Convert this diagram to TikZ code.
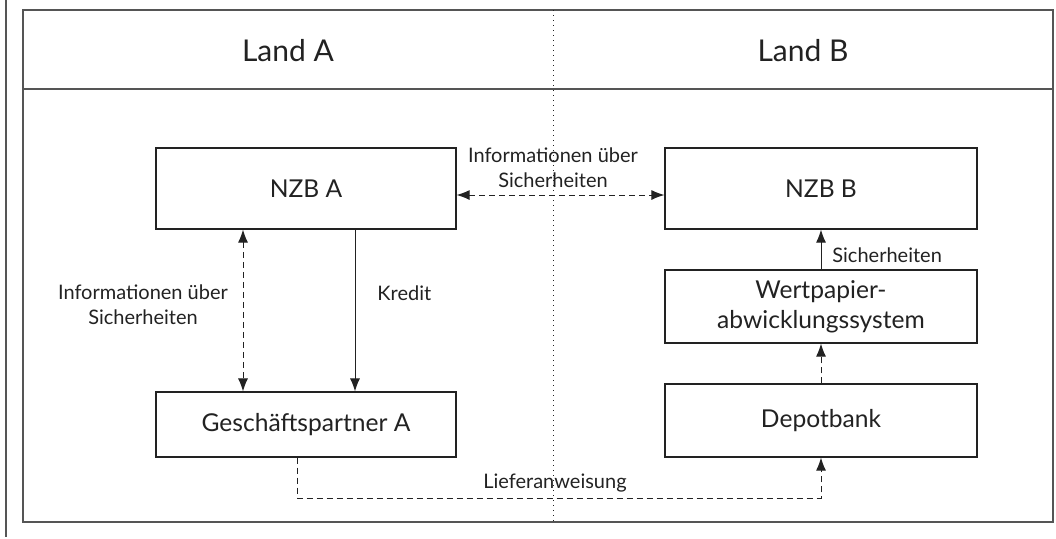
\documentclass[tikz,border=0pt]{standalone}
\usepackage{fontspec}
\setmainfont{Lato}
\usetikzlibrary{arrows.meta,positioning}

\definecolor{inkgray}{HTML}{222222}
\definecolor{framegray}{HTML}{555555}

\tikzstyle{bankbox} = [draw=inkgray, fill=white, line width=0.6pt,
    rectangle, inner sep=0pt, text=inkgray, align=center,
    font=\fontsize{12.3}{15}\selectfont]
\tikzstyle{landtitle} = [text=inkgray, font=\fontsize{15}{18}\selectfont]
\tikzstyle{smalllabel} = [text=inkgray, align=center, inner sep=0pt,
    font=\fontsize{10}{12.5}\selectfont]
\tikzstyle{solidarrow} = [draw=inkgray, line width=0.5pt,
    -{Latex[length=6.5pt,width=5pt]}]
\tikzstyle{dasharrow} = [solidarrow, dash pattern=on 3pt off 2pt]

\begin{document}
\begin{tikzpicture}[x=0.5pt, y=-0.5pt]
\useasboundingbox (0,0) rectangle (1056,538);

% frame and the two countries
\draw[framegray, line width=0.6pt] (6,0) -- (6,537);
\draw[framegray, line width=0.8pt] (23,10) rectangle (1053,522);
\draw[framegray, line width=0.8pt] (23,89) -- (1053,89);
\draw[inkgray, line width=0.5pt, dotted] (553,10) -- (553,522);
\node[landtitle] (landa) at (288,51) {Land A};
\node[landtitle] (landb) at (803,51) {Land B};

% boxes
\node[bankbox, minimum width=150pt, minimum height=40.5pt] (nzba) at (306,188.5) {NZB A};
\node[bankbox, minimum width=150pt, minimum height=32.5pt] (partnera) at (306,424.5) {Gesch\"aftspartner A};
\node[bankbox, minimum width=156pt, minimum height=40.5pt] (nzbb) at (821,188.5) {NZB B};
\node[bankbox, minimum width=156pt, minimum height=36.5pt] (sss) at (821,306.5) {Wertpapier-\\abwicklungssystem};
\node[bankbox, minimum width=156pt, minimum height=36.5pt] (depot) at (821,420.5) {Depotbank};

% connectors
\draw[dasharrow, {Latex[length=6.5pt,width=5pt]}-{Latex[length=6.5pt,width=5pt]}]
    ([yshift=-3.25pt]nzba.east) -- ([yshift=-3.25pt]nzbb.west);
\node[smalllabel] (infotop) at (553,168) {Informationen \"uber\\Sicherheiten};

\coordinate (infoa) at (243,229);
\draw[dasharrow, {Latex[length=6.5pt,width=5pt]}-{Latex[length=6.5pt,width=5pt]}]
    (nzba.south -| infoa) -- (partnera.north -| infoa);
\node[smalllabel] (infoleft) at (143,305) {Informationen \"uber\\Sicherheiten};

\coordinate (kredit) at (355,229);
\draw[solidarrow] (nzba.south -| kredit) -- (partnera.north -| kredit);
\node[smalllabel, anchor=west] (kreditlabel) at (377,293) {Kredit};

\draw[solidarrow] (sss.north -| nzbb.south) -- (nzbb.south);
\node[smalllabel, anchor=west] (sichlabel) at (832,255) {Sicherheiten};
\draw[dasharrow] (depot.north -| sss.south) -- (sss.south);

\coordinate (liefera) at (297,498);
\coordinate (lieferb) at (821,498);
\draw[dasharrow] (partnera.south -| liefera) -- (liefera) -- (lieferb) -- (depot.south);
\node[smalllabel] (lieferlabel) at (555,483) {Lieferanweisung};
\end{tikzpicture}
\end{document}
